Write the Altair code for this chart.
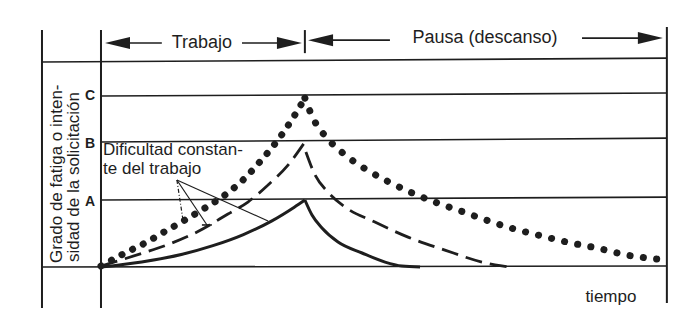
import altair as alt
import pandas as pd

# ---------------- data (time units: work period = 0..10 ; level units: C = 100) -------------
solid_rise_t = [0, 2.0, 4.0, 5.5, 7.0, 8.4, 9.5, 10.02]
solid_rise_y = [0, 3.0, 7.5, 12.5, 19.0, 27.0, 35.0, 39.2]
solid_decay_t = [10.02, 10.37, 10.86, 11.65, 12.83, 13.96, 14.79, 15.68]
solid_decay_y = [39.2, 30.4, 22.8, 14.6, 8.2, 2.9, 0.6, 0]

dashed_rise_t = [0, 2.06, 3.24, 4.72, 6.24, 7.22, 8.21, 9.19, 10.02]
dashed_rise_y = [0.6, 8.2, 12.9, 20.5, 31.0, 38.0, 48.0, 59.6, 73.1]
dashed_decay_t = [10.07, 10.52, 11.15, 11.99, 13.46, 15.09, 16.90, 18.72, 19.36, 20.10]
dashed_decay_y = [67.3, 53.8, 43.9, 35.1, 26.3, 17.5, 9.9, 2.9, 1.2, 0]

dotted_rise_t = [0, 1.18, 2.16, 3.10, 4.13, 5.11, 6.09, 6.98, 7.71, 8.30, 8.80, 9.43, 10.02]
dotted_rise_y = [0.6, 8.2, 14.0, 20.5, 27.5, 34.5, 42.1, 50.9, 60.2, 68.4, 76.0, 87.1, 98.8]
dotted_decay_t = [10.02, 10.42, 11.11, 11.94, 12.92, 13.96, 15.18, 16.41, 17.69, 18.92,
                  20.15, 21.47, 22.90, 24.37, 25.85, 27.32]
dotted_decay_y = [98.8, 87.1, 75.4, 66.1, 57.9, 50.9, 43.9, 38.0, 32.7, 27.5,
                  22.8, 18.7, 14.6, 11.1, 7.0, 4.7]

# horizontal reference lines (top frame, C, B, A, baseline); slightly tilted scan
h_names = ["top", "C", "B", "A", "base"]
h_t_start = [-2.9, 0, 0, 0, -2.9]
h_t_end = [27.81, 27.81, 27.81, 27.81, 27.81]
h_y_start = [119.9, 100.0, 73.1, 39.2, 0.0]
h_y_end = [122.2, 101.8, 75.4, 40.9, 0.6]

# vertical lines (outer frame, y axis, right end, work/pause divider)
v_t = [-2.9, 0, 27.81, 10.02]
v_y_bottom = [-24.0, -24.0, -21.1, 125.1]
v_y_top = [138.6, 138.6, 140.4, 138.6]

# level labels
level_labels = ["C", "B", "A"]
level_label_y = [100.0, 71.9, 38.0]

# arrows of the header
shaft_t_start = [0.79, 6.93, 10.76, 23.64]
shaft_t_end = [2.99, 9.29, 14.20, 27.03]
shaft_y = [131.0, 131.0, 132.7, 133.9]
head_left_t = [0.81, 10.79]
head_left_y = [131.0, 132.7]
head_right_t = [9.26, 27.0]
head_right_y = [131.0, 133.9]

header_texts = ["Trabajo", "Pausa (descanso)"]
header_t = [4.96, 18.87]
header_y = [131.0, 133.9]

ytitle_lines = ["Grado de fatiga o inten-", "sidad de la solicitación"]
ytitle_t = [-2.16, -1.33]
ytitle_y = [2.3, 2.9]

note_lines = ["Dificultad constan-", "te del trabajo"]
note_t = [0.10, 0.10]
note_y = [68.6, 57.3]

xlabel = ["tiempo"]
xlabel_t = [25.06]
xlabel_y = [-17.5]

# leader lines from the note to the three curves
leader_apex = (3.73, 50.9)
leader_end_t = [4.03, 5.21, 8.21]
leader_end_y = [27.5, 24.6, 26.9]
leader_style = ["dashdot", "solid", "solid"]
tick_t = [4.96, 5.45]
tick_y = 24.6

# ---------------- chart ----------------
W, H = 678, 311
INK = "#1e1e1e"
FONT = "Liberation Sans"

xs = alt.Scale(domain=[-4.57, 28.75], nice=False, zero=False)
ys = alt.Scale(domain=[-30.4, 151.5], nice=False, zero=False)


def curve_df(parts):
    rows = []
    for name, ts, yv in parts:
        for a, b in zip(ts, yv):
            rows.append({"t": a, "y": b, "series": name})
    return pd.DataFrame(rows)


def X(field="t"):
    return alt.X(f"{field}:Q", scale=xs, axis=None)


def Y(field="y"):
    return alt.Y(f"{field}:Q", scale=ys, axis=None)


hdf = pd.DataFrame({"name": h_names, "t1": h_t_start, "t2": h_t_end,
                    "y1": h_y_start, "y2": h_y_end})
hlines = alt.Chart(hdf).mark_rule(color=INK, strokeWidth=1.6).encode(
    x=X("t1"), x2="t2", y=Y("y1"), y2="y2")

vdf = pd.DataFrame({"t": v_t, "yb": v_y_bottom, "yt": v_y_top})
vlines = alt.Chart(vdf).mark_rule(color=INK, strokeWidth=2).encode(
    x=X("t"), y=Y("yb"), y2="yt")

solid = alt.Chart(curve_df([("sr", solid_rise_t, solid_rise_y),
                            ("sd", solid_decay_t, solid_decay_y)])).mark_line(
    color=INK, strokeWidth=3, interpolate="monotone").encode(
    x=X(), y=Y(), detail="series:N")

dashed = alt.Chart(curve_df([("dr", dashed_rise_t, dashed_rise_y),
                             ("dd", dashed_decay_t, dashed_decay_y)])).mark_line(
    color=INK, strokeWidth=2.8, strokeDash=[17, 8], interpolate="monotone").encode(
    x=X(), y=Y(), detail="series:N")

dotted_r = alt.Chart(curve_df([("or", dotted_rise_t, dotted_rise_y)])).mark_line(
    color=INK, strokeWidth=7, strokeDash=[0.1, 11.8], strokeCap="round",
    interpolate="monotone").encode(x=X(), y=Y())

dotted_d = alt.Chart(curve_df([("od", dotted_decay_t, dotted_decay_y)])).mark_line(
    color=INK, strokeWidth=7, strokeDash=[0.1, 13.3], strokeCap="round",
    interpolate="monotone").encode(x=X(), y=Y())

sdf = pd.DataFrame({"t1": shaft_t_start, "t2": shaft_t_end, "y": shaft_y})
shafts = alt.Chart(sdf).mark_rule(color=INK, strokeWidth=1.6).encode(
    x=X("t1"), x2="t2", y=Y("y"))

heads_l = alt.Chart(pd.DataFrame({"t": head_left_t, "y": head_left_y})).mark_point(
    shape="M -1 0 L 1 -0.48 L 1 0.48 Z", size=625, filled=True, opacity=1,
    color=INK).encode(x=X(), y=Y())
heads_r = alt.Chart(pd.DataFrame({"t": head_right_t, "y": head_right_y})).mark_point(
    shape="M 1 0 L -1 -0.48 L -1 0.48 Z", size=625, filled=True, opacity=1,
    color=INK).encode(x=X(), y=Y())

header = alt.Chart(pd.DataFrame({"t": header_t, "y": header_y, "txt": header_texts})).mark_text(
    font=FONT, fontSize=18, color=INK, align="center", baseline="middle").encode(
    x=X(), y=Y(), text="txt:N")

levels = alt.Chart(pd.DataFrame({"t": [-0.54] * 3, "y": level_label_y,
                                 "txt": level_labels})).mark_text(
    font=FONT, fontSize=14, fontWeight="bold", color=INK, align="center",
    baseline="middle").encode(x=X(), y=Y(), text="txt:N")

ytitle = alt.Chart(pd.DataFrame({"t": ytitle_t, "y": ytitle_y, "txt": ytitle_lines})).mark_text(
    font=FONT, fontSize=17, color=INK, angle=270, align="left",
    baseline="middle").encode(x=X(), y=Y(), text="txt:N")

note = alt.Chart(pd.DataFrame({"t": note_t, "y": note_y, "txt": note_lines})).mark_text(
    font=FONT, fontSize=17, color=INK, align="left", baseline="middle").encode(
    x=X(), y=Y(), text="txt:N")

xlab = alt.Chart(pd.DataFrame({"t": xlabel_t, "y": xlabel_y, "txt": xlabel})).mark_text(
    font=FONT, fontSize=17, color=INK, align="center", baseline="middle").encode(
    x=X(), y=Y(), text="txt:N")

ldf = pd.DataFrame({"t1": [leader_apex[0]] * 3, "y1": [leader_apex[1]] * 3,
                    "t2": leader_end_t, "y2": leader_end_y, "style": leader_style})
leader_solid = alt.Chart(ldf[ldf["style"] == "solid"]).mark_rule(
    color=INK, strokeWidth=1.2).encode(x=X("t1"), x2="t2", y=Y("y1"), y2="y2")
leader_dd = alt.Chart(ldf[ldf["style"] == "dashdot"]).mark_rule(
    color=INK, strokeWidth=1.2, strokeDash=[4, 2, 1, 2]).encode(
    x=X("t1"), x2="t2", y=Y("y1"), y2="y2")
tick = alt.Chart(pd.DataFrame({"t1": [tick_t[0]], "t2": [tick_t[1]], "y": [tick_y]})).mark_rule(
    color=INK, strokeWidth=1.6).encode(x=X("t1"), x2="t2", y=Y("y"))

chart = alt.layer(
    hlines, vlines, solid, dashed, dotted_r, dotted_d, shafts, heads_l, heads_r,
    header, levels, ytitle, note, xlab, leader_solid, leader_dd, tick
).properties(
    width=W, height=H, padding=0,
    autosize=alt.AutoSizeParams(type="none"),
    background="white",
).configure_view(stroke=None)

chart.save("out.html", embed_options={"renderer": "svg", "actions": False})
